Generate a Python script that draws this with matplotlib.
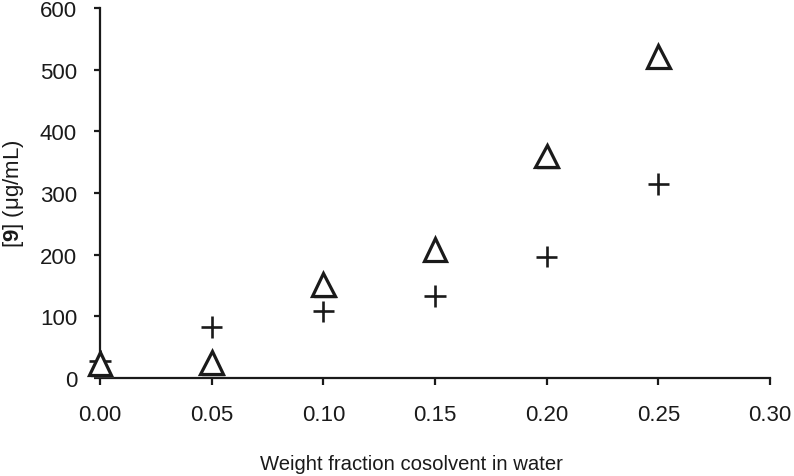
import matplotlib
matplotlib.use("Agg")
import matplotlib.pyplot as plt
import matplotlib.patheffects as pe

plt.rcParams["font.family"] = ["Liberation Sans", "DejaVu Sans"]
plt.rcParams["mathtext.fontset"] = "custom"
plt.rcParams["mathtext.bf"] = "Liberation Sans:bold"
plt.rcParams["mathtext.rm"] = "Liberation Sans"

# data
fractions = [0.00, 0.05, 0.10, 0.15, 0.20, 0.25]
triangle_vals = [23, 25, 152, 209, 360, 522]
plus_vals = [28, 83, 108, 133, 197, 315]

x_ticks = [0.00, 0.05, 0.10, 0.15, 0.20, 0.25, 0.30]
y_ticks = [0, 100, 200, 300, 400, 500, 600]

fig = plt.figure(figsize=(7.94, 4.77), dpi=100)
ax = fig.add_axes([100 / 794, 1 - 379 / 477, 670 / 794, 370 / 477])

shadow = [pe.SimplePatchShadow(offset=(1.5, -2), shadow_rgbFace="gray", alpha=0.3), pe.Normal()]

ax.plot(fractions, plus_vals, linestyle="none", marker="+", markersize=15.5,
        markeredgewidth=1.9, color="#1a1a1a", path_effects=shadow, clip_on=False, zorder=3)
ax.plot(fractions, triangle_vals, linestyle="none", marker="^", markersize=16.5,
        markeredgewidth=2.3, markerfacecolor="white", markeredgecolor="#1a1a1a",
        path_effects=shadow, clip_on=False, zorder=4)

ax.set_xlim(0, 0.30)
ax.set_ylim(0, 600)
ax.set_xticks(x_ticks)
ax.set_xticklabels([f"{v:.2f}" for v in x_ticks])
ax.set_yticks(y_ticks)

for side in ["top", "right"]:
    ax.spines[side].set_visible(False)
for side in ["left", "bottom"]:
    ax.spines[side].set_linewidth(1.6)
    ax.spines[side].set_color("#1a1a1a")

ax.tick_params(axis="x", direction="out", length=5, width=1.6, pad=14,
               labelsize=16, colors="#1a1a1a")
ax.tick_params(axis="y", direction="out", length=4, width=1.6, pad=12.5,
               labelsize=16, colors="#1a1a1a")

fig.text(411 / 794, 1 - 470 / 477, "Weight fraction cosolvent in water",
         ha="center", va="baseline", fontsize=14.6, color="#1a1a1a")
fig.text(14 / 794, 1 - 194 / 477, r"[$\mathbf{9}$] (μg/mL)", rotation=90,
         ha="center", va="center", fontsize=16, color="#1a1a1a")

fig.savefig("out.png", dpi=100)
